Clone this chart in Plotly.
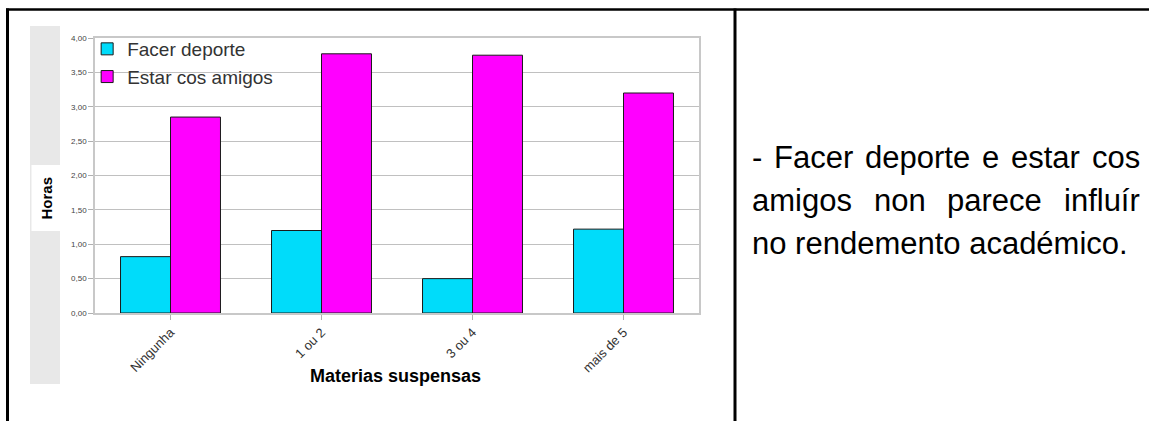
import plotly.graph_objects as go

categories = ["Ningunha", "1 ou 2", "3 ou 4", "mais de 5"]
facer_deporte = [0.82, 1.20, 0.50, 1.22]
estar_cos_amigos = [2.85, 3.77, 3.75, 3.20]
series_names = ["Facer deporte", "Estar cos amigos"]
y_tickvals = [0, 0.5, 1, 1.5, 2, 2.5, 3, 3.5, 4]
text_lines = [
    "- Facer deporte e estar cos",
    "amigos non parece influír",
    "no rendemento académico.",
]

W, H = 1149, 421
L, R, T, B = 95, 699, 38, 313  # plot area in pixels


def px(x):
    return (x - L) / (R - L)


def py(y):
    return (B - y) / (B - T)


FONT = "Liberation Sans, Arial, sans-serif"

# Arial / Liberation Sans advance widths (per 1000 em) for justification
ADV = {"-": 333, " ": 278, "F": 611, "a": 556, "c": 500, "e": 556, "r": 333,
       "d": 556, "p": 556, "o": 556, "t": 278, "s": 500, "m": 833, "i": 222,
       "g": 556, "n": 556, "f": 278, "l": 222, "u": 556, "í": 278, "é": 556,
       ".": 278}


def word_width(w, size):
    return sum(ADV.get(ch, 556) for ch in w) * size / 1000.0


fig = go.Figure()
fig.add_trace(go.Bar(
    x=categories, y=facer_deporte, name=series_names[0], legendgroup="a",
    marker=dict(color="#00DCFA", line=dict(color="#1a1a1a", width=1)),
))
fig.add_trace(go.Bar(
    x=categories, y=estar_cos_amigos, name=series_names[1], legendgroup="b",
    marker=dict(color="#FF00FF", line=dict(color="#1a1a1a", width=1)),
))

shapes = []
# page frame lines
shapes.append(dict(type="line", xref="paper", yref="paper",
                   x0=px(6), x1=px(1149), y0=py(9.5), y1=py(9.5),
                   line=dict(color="black", width=2.5)))
shapes.append(dict(type="line", xref="paper", yref="paper",
                   x0=px(7.5), x1=px(7.5), y0=py(8.5), y1=py(421),
                   line=dict(color="black", width=3)))
shapes.append(dict(type="line", xref="paper", yref="paper",
                   x0=px(735), x1=px(735), y0=py(8.5), y1=py(421),
                   line=dict(color="black", width=3)))
# grey strip behind the y title
shapes.append(dict(type="rect", xref="paper", yref="paper",
                   x0=px(30), x1=px(60), y0=py(26), y1=py(384),
                   fillcolor="#e8e8e8", line=dict(width=0), layer="below"))
shapes.append(dict(type="rect", xref="paper", yref="paper",
                   x0=px(31.5), x1=px(60), y0=py(165), y1=py(231),
                   fillcolor="white", line=dict(width=0), layer="below"))

annotations = []
annotations.append(dict(text="<b>Horas</b>", xref="paper", yref="paper",
                        x=px(45.5), y=py(198), textangle=-90, showarrow=False,
                        xanchor="center", yanchor="middle",
                        font=dict(family=FONT, size=15, color="black")))
annotations.append(dict(text="<b>Materias suspensas</b>", xref="paper", yref="paper",
                        x=px(395), y=py(376), showarrow=False,
                        xanchor="center", yanchor="middle",
                        font=dict(family=FONT, size=18, color="black")))

# right-hand paragraph: justified lines (last line left aligned)
TSIZE = 31
TX0, TX1 = 750, 1138
line_y = [157, 200, 243]
for li, (line, yc) in enumerate(zip(text_lines, line_y)):
    if li == len(text_lines) - 1:
        annotations.append(dict(text=line, xref="paper", yref="paper",
                                x=px(TX0), y=py(yc), showarrow=False,
                                xanchor="left", yanchor="middle",
                                font=dict(family=FONT, size=TSIZE, color="black")))
        continue
    words = line.split(" ")
    widths = [word_width(w, TSIZE) for w in words]
    gap = (TX1 - TX0 - sum(widths)) / (len(words) - 1)
    xcur = TX0
    for w, ww in zip(words, widths):
        annotations.append(dict(text=w, xref="paper", yref="paper",
                                x=px(xcur), y=py(yc), showarrow=False,
                                xanchor="left", yanchor="middle",
                                font=dict(family=FONT, size=TSIZE, color="black")))
        xcur += ww + gap

fig.update_layout(
    width=W, height=H,
    margin=dict(l=L, r=W - R, t=T, b=H - B, pad=0),
    paper_bgcolor="white", plot_bgcolor="white",
    barmode="group", bargap=0.338, bargroupgap=0,
    showlegend=True,
    legend=dict(x=-0.013, y=py(30), xanchor="left", yanchor="top",
                bgcolor="rgba(0,0,0,0)", tracegroupgap=0,
                font=dict(family=FONT, size=19, color="#333333")),
    xaxis=dict(type="category", showgrid=False, ticks="outside", ticklen=5,
               tickcolor="#b0b0b0", tickangle=-45,
               tickfont=dict(family=FONT, size=13, color="#333333"),
               showline=True, linecolor="#c8c8c8", linewidth=1.5, mirror=True),
    yaxis=dict(range=[0, 4], tickvals=y_tickvals, tickformat=".2f",
               showgrid=True, gridcolor="#c0c0c0", gridwidth=1,
               ticks="outside", ticklen=5, tickcolor="#b0b0b0",
               tickfont=dict(family=FONT, size=8, color="#444444"),
               showline=True, linecolor="#c8c8c8", linewidth=1.5, mirror=True,
               zeroline=False),
    separators=",.",
    shapes=shapes, annotations=annotations,
)

fig.write_html("out.html", config={"displayModeBar": False},
               post_script="document.body.style.margin='0';")
